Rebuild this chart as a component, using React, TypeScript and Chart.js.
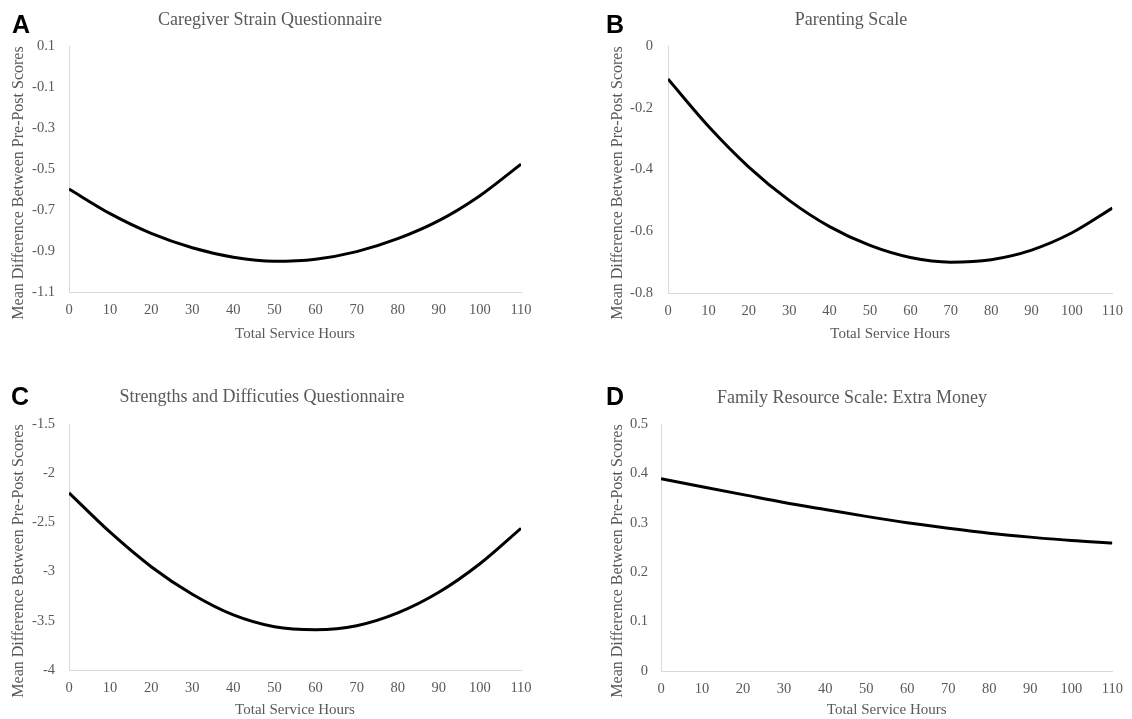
import React, { useEffect, useRef } from "react";
import { Chart, registerables } from "chart.js";

Chart.register(...registerables);

// ---- Data ----
const hours = [0, 10, 20, 30, 40, 50, 60, 70, 80, 90, 100, 110];
const xTicks = [0, 10, 20, 30, 40, 50, 60, 70, 80, 90, 100, 110];

const caregiverStrain = [-0.598, -0.718, -0.814, -0.884, -0.930, -0.950, -0.940, -0.903, -0.840, -0.752, -0.630, -0.476];
const caregiverTicks = [0.1, -0.1, -0.3, -0.5, -0.7, -0.9, -1.1];

const parentingScale = [-0.107, -0.260, -0.392, -0.500, -0.585, -0.646, -0.685, -0.700, -0.692, -0.661, -0.605, -0.525];
const parentingTicks = [0, -0.2, -0.4, -0.6, -0.8];

const sdqScores = [-2.2, -2.6, -2.95, -3.23, -3.44, -3.56, -3.59, -3.55, -3.42, -3.21, -2.92, -2.56];
const sdqTicks = [-1.5, -2, -2.5, -3, -3.5, -4];

const extraMoney = [0.389, 0.373, 0.357, 0.341, 0.327, 0.313, 0.300, 0.289, 0.279, 0.271, 0.264, 0.259];
const extraMoneyTicks = [0.5, 0.4, 0.3, 0.2, 0.1, 0];

const panelLetters = ["A", "B", "C", "D"];
const panelTitles = [
  "Caregiver Strain Questionnaire",
  "Parenting Scale",
  "Strengths and Difficuties Questionnaire",
  "Family Resource Scale: Extra Money",
];
const xAxisTitle = "Total Service Hours";
const yAxisTitle = "Mean Difference Between Pre-Post Scores";

const SERIF = '"Liberation Serif", "Times New Roman", serif';
const SANS = '"Liberation Sans", Arial, sans-serif';
const GREY = "#595959";

const yTitlePlugin = {
  id: "yTitle",
  afterDraw(chart: any, _args: any, opts: any) {
    const ctx = chart.ctx;
    ctx.save();
    ctx.translate(opts.x, opts.y);
    ctx.rotate(-Math.PI / 2);
    ctx.font = `${opts.size}px ${SERIF}`;
    ctx.fillStyle = GREY;
    ctx.textAlign = "center";
    ctx.textBaseline = "middle";
    ctx.fillText(opts.text, 0, 0);
    ctx.restore();
  },
};

type PanelCfg = {
  left: number;
  top: number;
  width: number;
  height: number;
  values: number[];
  yTicks: number[];
  area: { left: number; right: number; top: number; bottom: number };
  yTitlePos: { x: number; y: number };
  yTickPad: number;
};

function fmt(v: number) {
  return String(Math.round(v * 100) / 100);
}

function Panel({ cfg }: { cfg: PanelCfg }) {
  const ref = useRef<HTMLCanvasElement | null>(null);
  useEffect(() => {
    if (!ref.current) return;
    const yMin = Math.min(...cfg.yTicks);
    const yMax = Math.max(...cfg.yTicks);
    const xAxisHeight = cfg.height - cfg.area.bottom - (cfg.height - 342 > 0 ? cfg.height - 342 : 0);
    const padBottom = cfg.height - cfg.area.bottom - xAxisHeight;
    const chart = new Chart(ref.current, {
      type: "line",
      data: {
        datasets: [
          {
            data: hours.map((h, i) => ({ x: h, y: cfg.values[i] })),
            borderColor: "#000000",
            borderWidth: 3,
            pointRadius: 0,
            fill: false,
            cubicInterpolationMode: "monotone",
          },
        ],
      },
      options: {
        animation: false,
        responsive: false,
        devicePixelRatio: 1,
        layout: {
          padding: {
            left: 0,
            top: cfg.area.top,
            right: cfg.width - cfg.area.right,
            bottom: padBottom,
          },
        },
        plugins: {
          legend: { display: false },
          tooltip: { enabled: false },
          title: { display: false },
          yTitle: { x: cfg.yTitlePos.x, y: cfg.yTitlePos.y, text: yAxisTitle, size: 16 },
        } as any,
        scales: {
          x: {
            type: "linear",
            min: 0,
            max: 110,
            afterFit: (s: any) => {
              s.height = xAxisHeight;
            },
            afterBuildTicks: (s: any) => {
              s.ticks = xTicks.map((v) => ({ value: v }));
            },
            grid: { display: false, drawTicks: false },
            border: { display: true, color: "#d9d9d9", width: 1 },
            ticks: {
              padding: 9,
              color: GREY,
              font: { family: SERIF, size: 14.5 },
              maxRotation: 0,
              autoSkip: false,
              callback: (v: any) => fmt(Number(v)),
            },
            title: {
              display: true,
              text: xAxisTitle,
              color: GREY,
              font: { family: SERIF, size: 15, lineHeight: 1 },
              padding: { top: 4, bottom: 0 },
            },
          },
          y: {
            type: "linear",
            min: yMin,
            max: yMax,
            afterFit: (s: any) => {
              s.width = cfg.area.left;
            },
            afterBuildTicks: (s: any) => {
              s.ticks = [...cfg.yTicks].sort((a, b) => a - b).map((v) => ({ value: v }));
            },
            grid: { display: false, drawTicks: false },
            border: { display: true, color: "#d9d9d9", width: 1 },
            ticks: {
              padding: cfg.yTickPad,
              color: GREY,
              font: { family: SERIF, size: 14.5 },
              autoSkip: false,
              callback: (v: any) => fmt(Number(v)),
            },
            title: { display: false },
          },
        },
      },
      plugins: [yTitlePlugin as any],
    });
    return () => chart.destroy();
  }, [cfg]);
  return (
    <canvas
      ref={ref}
      width={cfg.width}
      height={cfg.height}
      style={{
        position: "absolute",
        left: cfg.left,
        top: cfg.top,
        width: cfg.width,
        height: cfg.height,
      }}
    />
  );
}

const panels: PanelCfg[] = [
  {
    left: 0, top: 0, width: 566, height: 358,
    values: caregiverStrain, yTicks: caregiverTicks,
    area: { left: 69, right: 521, top: 46, bottom: 292 },
    yTitlePos: { x: 19, y: 183 }, yTickPad: 14,
  },
  {
    left: 566, top: 0, width: 566, height: 358,
    values: parentingScale, yTicks: parentingTicks,
    area: { left: 102, right: 552, top: 46, bottom: 293 },
    yTitlePos: { x: 52, y: 183 }, yTickPad: 15,
  },
  {
    left: 0, top: 376, width: 566, height: 343,
    values: sdqScores, yTicks: sdqTicks,
    area: { left: 69, right: 521, top: 48, bottom: 294 },
    yTitlePos: { x: 19, y: 185 }, yTickPad: 14,
  },
  {
    left: 566, top: 376, width: 566, height: 343,
    values: extraMoney, yTicks: extraMoneyTicks,
    area: { left: 95, right: 553, top: 48, bottom: 295 },
    yTitlePos: { x: 52, y: 185 }, yTickPad: 13,
  },
];

const letterPos = [
  { left: 12, top: 12 },
  { left: 606, top: 12 },
  { left: 11, top: 384 },
  { left: 606, top: 384 },
];
const titlePos = [
  { cx: 270, top: 10 },
  { cx: 851, top: 10 },
  { cx: 262, top: 387 },
  { cx: 852, top: 388 },
];

export default function App() {
  return (
    <div
      style={{
        position: "absolute",
        left: 0,
        top: 0,
        width: 1132,
        height: 719,
        background: "#ffffff",
        overflow: "hidden",
      }}
    >
      {panels.map((p, i) => (
        <Panel key={i} cfg={p} />
      ))}
      {panelLetters.map((l, i) => (
        <div
          key={"l" + i}
          style={{
            position: "absolute",
            left: letterPos[i].left,
            top: letterPos[i].top,
            font: `bold 25px ${SANS}`,
            lineHeight: "25px",
            color: "#000",
          }}
        >
          {l}
        </div>
      ))}
      {panelTitles.map((t, i) => (
        <div
          key={"t" + i}
          style={{
            position: "absolute",
            left: titlePos[i].cx - 250,
            width: 500,
            top: titlePos[i].top,
            textAlign: "center",
            fontFamily: SERIF,
            fontSize: 18,
            lineHeight: "18px",
            color: GREY,
            whiteSpace: "nowrap",
          }}
        >
          {t}
        </div>
      ))}
    </div>
  );
}
